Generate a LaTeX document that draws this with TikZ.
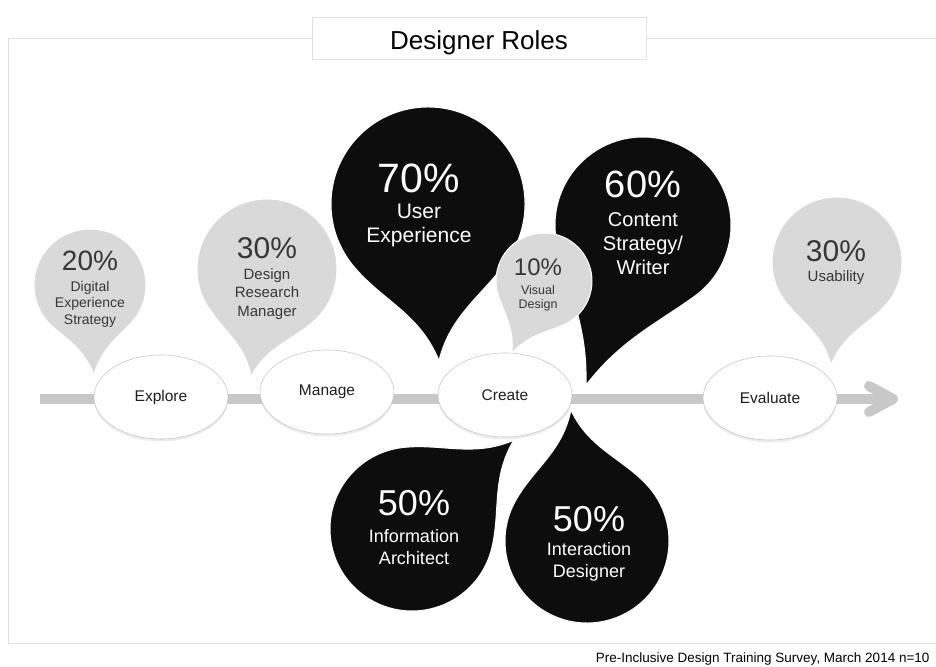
\documentclass[tikz,border=0pt]{standalone}
\usepackage{fontspec}
\setmainfont{Liberation Sans}
\usetikzlibrary{shapes.geometric,shadows,calc,arrows.meta}
\definecolor{pingray}{RGB}{217,217,217}
\definecolor{pinblack}{RGB}{13,13,13}
\definecolor{pintext}{RGB}{55,55,55}
\definecolor{stagetext}{RGB}{30,30,30}
\definecolor{axisgray}{RGB}{200,200,200}
\definecolor{framegray}{RGB}{225,225,225}
\definecolor{rimgray}{RGB}{200,200,200}
\tikzset{pct/.style={font=\fontsize{#1}{#1}\selectfont},
  role/.style args={#1/#2}{font=\fontsize{#1}{#2}\selectfont,align=center}}

\begin{document}
\begin{tikzpicture}[x=1pt,y=1pt,
  stage/.style={ellipse,draw=rimgray,line width=0.6pt,fill=white,
    minimum width=134pt,minimum height=84pt,inner sep=0pt,text=stagetext,
    font=\fontsize{15.5}{18}\selectfont,
    drop shadow={shadow xshift=0pt,shadow yshift=-2.5pt,opacity=0.15}},
  lightpin/.style={fill=pingray,draw=white,line width=1pt},
  darkpin/.style={fill=pinblack,draw=white,line width=1pt},
  ongray/.style={text=pintext},
  onblack/.style={text=white},
  timeline/.style={draw=axisgray,line width=10pt,
    -{Straight Barb[length=24pt,width=26pt,round]}},
  titlebox/.style={draw=framegray,fill=white,minimum width=334pt,
    minimum height=42pt,text height=28pt,text depth=4pt,
    font=\fontsize{26}{30}\selectfont},
  credit/.style={anchor=east,font=\fontsize{13.5}{16}\selectfont}
  ]
  \useasboundingbox (0,0) rectangle (936,666);

  % the frame and the title
  \draw[framegray] (936,628) -- (8,628) -- (8,23) -- (936,23);
  \node[titlebox] (title) at (479,628) {Designer Roles};

  % the time line
  \coordinate (line-start) at (40,267);
  \coordinate (line-end) at (898,267);
  \draw[timeline] (line-start) -- (line-end);

  % the pins: name/centre/radius/rotation/tip distance/spread/style
  \foreach \n/\cx/\cy/\rad/\rot/\dist/\spread/\sty in
    {des/90/381/56/-87.5/90/42/lightpin,
     drm/267/397/70/-98.4/109/52/lightpin,
     ux/428/462/97/-86/157/55/darkpin,
     cs/643/441/88/-109.6/170/55/darkpin,
     vd/544/385/48/-114/79/45/lightpin,
     us/837/404/65/-93.3/103/48/lightpin,
     ia/412/137/82/41.1/135/55/darkpin,
     id/587/125/82/97/132/55/darkpin}
  {
    \pgfmathsetmacro\side{veclen(\dist-\rad*cos(\spread),\rad*sin(\spread))}
    \begin{scope}[shift={(\cx,\cy)},rotate=\rot]
      \path[\sty] (\dist,0)
        .. controls ({\dist-0.4*\side*cos(18)},{0.4*\side*sin(18)})
        and ($(\spread:\rad)+({\spread-90}:{0.35*\side})$) .. (\spread:\rad)
        arc[start angle=\spread,end angle={360-\spread},radius=\rad]
        .. controls ($(-\spread:\rad)+({90-\spread}:{0.35*\side})$)
        and ({\dist-0.4*\side*cos(18)},{-0.4*\side*sin(18)}) .. (\dist,0)
        -- cycle;
    \end{scope}
  }

  % the stages
  \node[stage] (explore) at (161,269) {Explore};
  \node[stage] (manage) at (327,274) {Manage};
  \node[stage] (create) at (505,271) {Create};
  \node[stage] (evaluate) at (770,268) {Evaluate};

  % the percentages
  \node[pct=28,ongray] (des-pct) at (90,405) {20\%};
  \node[pct=30,ongray] (drm-pct) at (267,418) {30\%};
  \node[pct=41,onblack] (ux-pct) at (419,488) {70\%};
  \node[pct=24,ongray] (vd-pct) at (538,399) {10\%};
  \node[pct=38,onblack] (cs-pct) at (643,482) {60\%};
  \node[pct=30,ongray] (us-pct) at (836,415) {30\%};
  \node[pct=36,onblack] (ia-pct) at (414,163) {50\%};
  \node[pct=36,onblack] (id-pct) at (589,147) {50\%};

  % the roles
  \node[role=14/16.5,ongray] (des-role) at (90,362) {Digital\\Experience\\Strategy};
  \node[role=15/18.5,ongray] (drm-role) at (267,372) {Design\\Research\\Manager};
  \node[role=21/24,onblack] (ux-role) at (419,441) {User\\Experience};
  \node[role=12.5/14,ongray] (vd-role) at (538,368) {Visual\\Design};
  \node[role=20/24,onblack] (cs-role) at (643,422) {Content\\Strategy/\\Writer};
  \node[role=15/18,ongray] (us-role) at (836,388) {Usability};
  \node[role=18/22,onblack] (ia-role) at (414,119) {Information\\Architect};
  \node[role=18/22,onblack] (id-role) at (589,104) {Interaction\\Designer};

  % the source
  \node[credit] (source) at (933,7) {Pre-Inclusive Design Training Survey, March 2014 n=10};
\end{tikzpicture}
\end{document}
